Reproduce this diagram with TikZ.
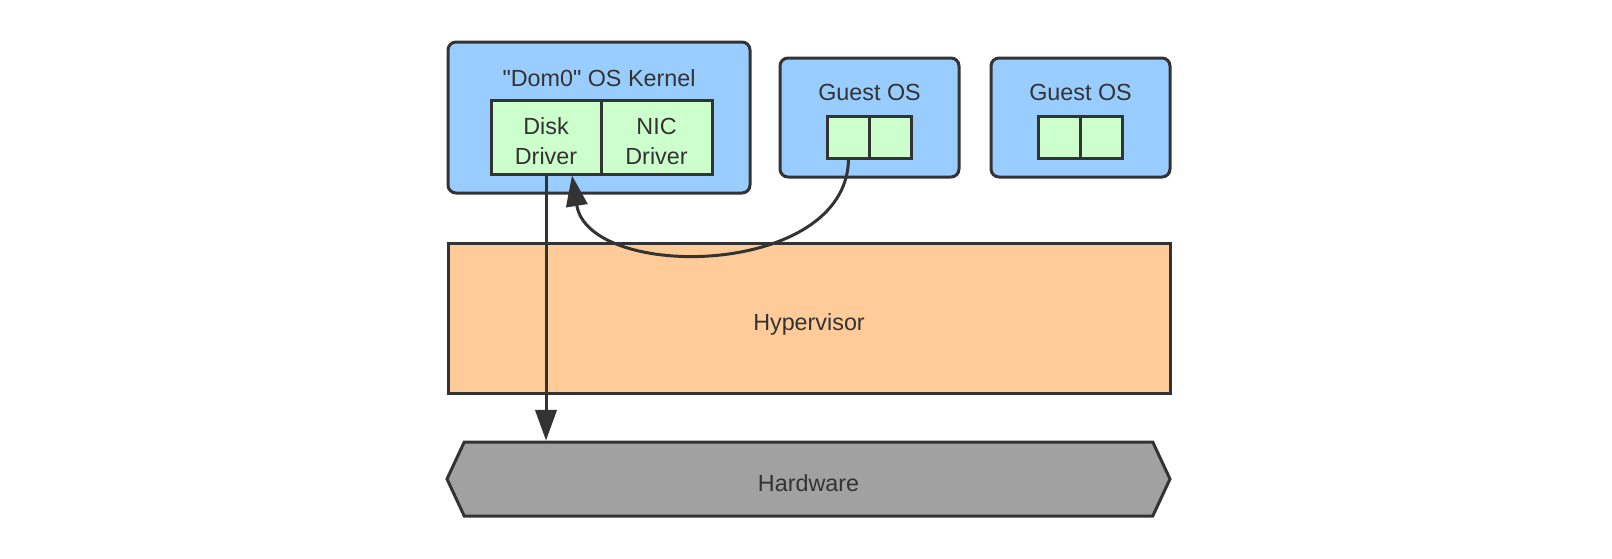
\documentclass[tikz,border=0pt]{standalone}
\usepackage{fontspec}
\setmainfont{Liberation Sans}[Ligatures=TeXOff]
\usepackage{xcolor}
\usepackage{tikz}
\usetikzlibrary{arrows.meta, shapes.symbols}
\definecolor{osblue}{HTML}{99CCFF}
\definecolor{drvgreen}{HTML}{CCFFCC}
\definecolor{hvorange}{HTML}{FFCC99}
\definecolor{hwgray}{HTML}{A1A1A1}
\definecolor{edgegray}{HTML}{333333}
\tikzstyle{txt}= [text=edgegray, text height=18.75pt, text depth=0pt, font=\fontsize{17.5}{22.1}\selectfont]
\tikzstyle{osbox}= [draw=edgegray, fill=osblue, line width=2.25pt, rounded corners=6pt, inner sep=0pt]
\tikzstyle{drv}= [txt, draw=edgegray, fill=drvgreen, line width=2.25pt, inner sep=0pt, align=center]
\tikzstyle{drvtwo}= [drv, text height=40.9pt]
\tikzstyle{layer}= [txt, draw=edgegray, line width=2.25pt, inner sep=0pt]
\tikzstyle{link}= [draw=edgegray, line width=2.25pt, -{Triangle[length=23pt, width=16pt]}]

\begin{document}
\begin{tikzpicture}[x=0.75pt, y=-0.75pt]
						\useasboundingbox (0,0) rectangle (1612,558);
						\node[osbox, minimum width=226.5pt, minimum height=113.25pt] (dom0) at (599,117.5) {};
						\node[txt] (dom0t) at (599,74) {"Dom0" OS Kernel};
						\node[drvtwo, minimum width=82.5pt, minimum height=55.5pt] (disk) at (546,137) {Disk\\Driver};
						\node[drvtwo, minimum width=83.25pt, minimum height=55.5pt] (nic) at (656.5,137) {NIC\\Driver};
						\node[osbox, minimum width=134.25pt, minimum height=89.25pt] (g1) at (869.5,117.5) {};
						\node[txt] (g1t) at (869.5,88) {Guest OS};
						\node[drv, minimum size=31.5pt] (g1a) at (848.5,137.5) {};
						\node[drv, minimum size=31.5pt] (g1b) at (890.5,137.5) {};
						\node[osbox, minimum width=134.25pt, minimum height=89.25pt] (g2) at (1080.5,117.5) {};
						\node[txt] (g2t) at (1080.5,88) {Guest OS};
						\node[drv, minimum size=31.5pt] (g2a) at (1059.5,137.5) {};
						\node[drv, minimum size=31.5pt] (g2b) at (1101.5,137.5) {};
						\node[layer, fill=hvorange, minimum width=541.5pt, minimum height=112.5pt] (hv) at (809,318) {Hypervisor};
						\node[layer, fill=hwgray, signal, signal to=west and east, signal pointer angle=130, minimum width=542.25pt, minimum height=55.5pt] (hw) at (808.5,479) {Hardware};
						\draw[link](disk.south) -- (disk.south |- hw.north);
						\draw[link](g1a.south) .. controls +(-3,118) and +(17,106) .. ([xshift=19.5pt]disk.south);
					\end{tikzpicture}
\end{document}
